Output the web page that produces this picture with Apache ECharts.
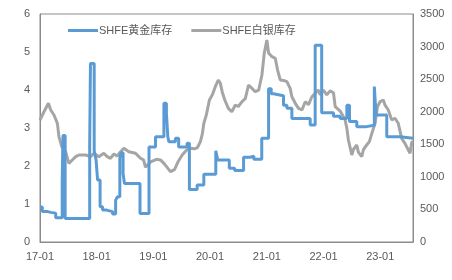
<!DOCTYPE html>
<html><head><meta charset="utf-8">
<script src="https://cdn.jsdelivr.net/npm/echarts@6/dist/echarts.min.js"></script>
<style>html,body{margin:0;padding:0;background:#fff}#c{width:452px;height:280px}</style>
</head><body><div id="c"></div>
<script>
var goldDates = ['2017-01-01','2017-01-16','2017-02-20','2017-03-11','2017-04-12','2017-05-24','2017-05-29','2017-06-12','2017-11-17','2017-11-22','2017-12-16','2017-12-28','2018-01-07','2018-01-23','2018-02-08','2018-03-06','2018-04-13','2018-05-03','2018-05-15','2018-05-30','2018-06-07','2018-06-20','2018-06-29','2018-10-07','2018-12-04','2019-01-15','2019-03-10','2019-03-26','2019-04-04','2019-04-11','2019-05-23','2019-06-13','2019-08-06','2019-08-21','2019-10-10','2019-11-22','2020-02-07','2020-02-19','2020-05-04','2020-06-08','2020-08-04','2020-09-16','2020-10-09','2020-11-29','2021-01-12','2021-01-29','2021-02-13','2021-04-18','2021-05-10','2021-06-11','2021-10-07','2021-11-08','2021-12-20','2022-03-06','2022-04-18','2022-05-31','2022-06-17','2022-08-03','2022-09-26','2022-11-24','2022-12-05','2023-02-12','2023-05-08','2023-07-31'];
var goldValues = [0.92,0.80,0.78,0.76,0.64,1.6,2.8,0.62,2.6,4.7,2.4,2.16,1.63,0.93,0.84,0.80,0.74,1.1,1.19,2.2,2.35,1.8,1.54,0.75,2.5,2.77,3.65,3.4,2.77,2.64,2.73,2.5,2.6,1.38,1.5,1.78,2.4,2.16,1.94,1.88,2.23,2.26,2.18,2.73,4.03,3.9,3.85,3.6,3.52,3.25,3.08,5.18,3.4,3.31,3.25,3.6,3.17,3.03,3.07,4.09,3.34,2.77,2.73,2.73];
var silverDates = ['2017-01-01','2017-01-27','2017-02-24','2017-03-11','2017-04-01','2017-04-23','2017-05-03','2017-05-21','2017-06-15','2017-07-06','2017-07-28','2017-08-19','2017-09-09','2017-10-22','2017-11-23','2017-12-14','2018-01-15','2018-02-16','2018-03-10','2018-03-31','2018-04-22','2018-05-13','2018-06-04','2018-06-25','2018-07-27','2018-09-08','2018-10-10','2018-10-30','2018-11-11','2018-12-14','2019-01-21','2019-02-16','2019-03-13','2019-04-21','2019-05-17','2019-06-11','2019-07-07','2019-08-02','2019-08-28','2019-09-22','2019-10-12','2019-10-31','2019-11-13','2019-11-22','2019-12-08','2019-12-28','2020-01-16','2020-02-04','2020-02-23','2020-03-07','2020-03-20','2020-04-05','2020-04-28','2020-05-20','2020-06-12','2020-07-01','2020-07-25','2020-08-15','2020-09-05','2020-09-27','2020-10-18','2020-11-09','2020-11-30','2020-12-15','2021-01-01','2021-01-12','2021-02-03','2021-02-24','2021-03-11','2021-03-28','2021-04-18','2021-05-10','2021-05-31','2021-06-11','2021-07-03','2021-07-24','2021-08-15','2021-09-05','2021-09-26','2021-10-18','2021-11-08','2021-11-29','2021-12-10','2021-12-31','2022-01-22','2022-02-12','2022-03-06','2022-03-17','2022-04-18','2022-05-09','2022-05-20','2022-05-31','2022-06-10','2022-07-02','2022-07-12','2022-08-03','2022-08-13','2022-09-04','2022-09-15','2022-10-06','2022-10-23','2022-11-08','2022-11-29','2022-12-14','2022-12-31','2023-01-21','2023-02-01','2023-02-22','2023-03-16','2023-04-06','2023-04-27','2023-05-19','2023-06-09','2023-07-01','2023-07-12','2023-07-23','2023-07-31'];
var silverValues = [1873,2000,2129,2026,1950,1822,1617,1463,1386,1208,1259,1310,1336,1336,1310,1362,1310,1362,1310,1285,1350,1320,1386,1438,1386,1362,1285,1260,1150,1230,1270,1260,1200,1080,1110,1240,1340,1410,1440,1430,1450,1540,1668,1822,1950,2180,2260,2384,2487,2440,2300,2180,2052,2000,2103,2080,2154,2200,2410,2359,2307,2330,2564,2896,3100,2900,2845,2820,2640,2487,2480,2461,2359,2230,2129,2052,2026,2154,2110,2230,2283,2333,2260,2333,2260,2320,2290,2077,2010,1923,1873,1745,1566,1336,1420,1489,1380,1310,1420,1489,1540,1668,1822,2077,2154,2180,2100,2026,1873,1900,1822,1591,1515,1412,1362,1530,1545];
var seriesNames = ['SHFE黄金库存','SHFE白银库存'];
var leftTicks = [0,1,2,3,4,5,6];
var rightTicks = [0,500,1000,1500,2000,2500,3000,3500];

var font = '"Liberation Sans","Noto Sans CJK SC",sans-serif';
var txt = '#595959';
var axisCol = '#8c8c8c';
function pairs(d, v){ return d.map(function(x,i){ return [x, v[i]]; }); }
var YEAR = 365.25*86400000;
var chart = echarts.init(document.getElementById('c'), null, {renderer:'canvas'});
chart.setOption({
  animation:false,
  textStyle:{fontFamily:font},
  grid:{left:40, right:39, top:14, bottom:38, show:true, borderColor:axisCol, borderWidth:1},
  legend:{
    top:20, left:63, itemGap:19, itemWidth:30, itemHeight:3, icon:'rect',
    textStyle:{color:txt, fontSize:11, fontFamily:font, padding:[0,0,0,-4]},
    data:seriesNames
  },
  xAxis:{
    type:'time', min:'2017-01-01', max:'2023-07-31',
    minInterval:YEAR*0.99, maxInterval:YEAR*1.01,
    axisLine:{lineStyle:{color:axisCol}}, axisTick:{show:false}, splitLine:{show:false},
    axisLabel:{color:txt, fontSize:11, margin:9, formatter:'{yy}-{MM}', showMaxLabel:false, hideOverlap:false}
  },
  yAxis:[{
    type:'value', min:leftTicks[0], max:leftTicks[leftTicks.length-1], interval:1,
    axisLine:{show:true, lineStyle:{color:axisCol}}, axisTick:{show:false}, splitLine:{show:false},
    axisLabel:{color:txt, fontSize:11, margin:10, formatter:function(v){return String(v);}}
  },{
    type:'value', min:rightTicks[0], max:rightTicks[rightTicks.length-1], interval:500,
    axisLine:{show:true, lineStyle:{color:axisCol}}, axisTick:{show:false}, splitLine:{show:false},
    axisLabel:{color:txt, fontSize:11, margin:7, formatter:function(v){return String(v);}}
  }],
  series:[{
    name:seriesNames[0], type:'line', step:'end', yAxisIndex:0, showSymbol:false, symbol:'none',
    lineStyle:{color:'#5B9BD5', width:3}, itemStyle:{color:'#5B9BD5'},
    data:pairs(goldDates, goldValues), z:3
  },{
    name:seriesNames[1], type:'line', yAxisIndex:1, showSymbol:false, symbol:'none',
    lineStyle:{color:'#A5A5A5', width:3}, itemStyle:{color:'#A5A5A5'},
    data:pairs(silverDates, silverValues), z:2
  }]
});
</script></body></html>
